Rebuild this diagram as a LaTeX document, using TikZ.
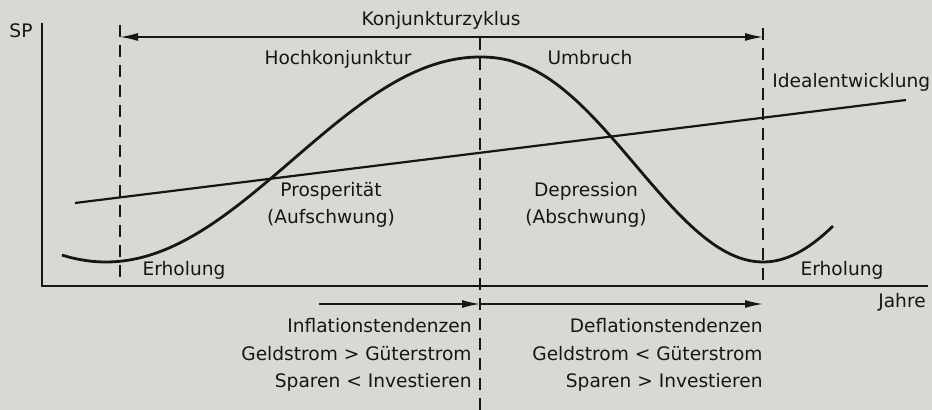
\documentclass[tikz,border=0pt]{standalone}
\usepackage{fontspec}
\setmainfont{DejaVu Sans}
\usetikzlibrary{positioning, arrows.meta}
\definecolor{papercolor}{RGB}{216,216,213}
\definecolor{inkcolor}{RGB}{22,22,22}

\begin{document}
\begin{tikzpicture}[x=0.5pt, y=-0.5pt,
    lbl/.style={inner sep=0pt, text=inkcolor, font=\fontsize{9.3}{13.75}\selectfont},
    axisline/.style={draw=inkcolor, line width=1pt},
    cutline/.style={draw=inkcolor, line width=0.7pt, dash pattern=on 6pt off 4pt},
    spanarrow/.style={draw=inkcolor, line width=0.75pt, -{Latex[length=9pt,width=4pt]}},
    wave/.style={draw=inkcolor, line width=1.4pt, smooth, samples=90},
    trend/.style={draw=inkcolor, line width=1.1pt}]
    \fill[papercolor] (0,0) rectangle (932,410);
    \useasboundingbox (0,0) rectangle (932,410);

    \coordinate (origin) at (42,286);
    \coordinate (ytop) at (42,23);
    \coordinate (xend) at (928,286);
    \coordinate (c1top) at (120,25);
    \coordinate (c1bot) at (120,286);
    \coordinate (c2top) at (480,38);
    \coordinate (c2bot) at (480,410);
    \coordinate (c3top) at (763,28);
    \coordinate (c3bot) at (763,286);
    \coordinate (zykL) at (120,37);
    \coordinate (zykR) at (763,37);
    \coordinate (zykM) at (441,37);
    \coordinate (tendA) at (319,304);
    \coordinate (tendM) at (480,304);
    \coordinate (tendB) at (763,304);
    \coordinate (idealA) at (75,203);
    \coordinate (idealB) at (906,100);

    \draw[axisline] (ytop) -- (origin) -- (xend);
    \draw[cutline] (c1top) -- (c1bot);
    \draw[cutline] (c2top) -- (c2bot);
    \draw[cutline] (c3top) -- (c3bot);
    \draw[spanarrow] (zykM) -- (zykL);
    \draw[spanarrow] (zykM) -- (zykR);
    \draw[spanarrow] (tendA) -- (tendM);
    \draw[spanarrow] (tendM) -- (tendB);
    \draw[trend] (idealA) -- (idealB);

    \draw[wave, domain=62:480] plot (\x, {159.5+102.5*cos(((\x-106)/374)*180)});
    \draw[wave, domain=480:833] plot (\x, {159.5-102.5*cos(180*((\x-480)/283)^1.1)});

    \node[lbl, anchor=base] (sp) at (21,38) {SP};
    \node[lbl, anchor=base] (jahre) at (902,308) {Jahre};
    \node[lbl, anchor=base] (zyklus) at (441,26) {Konjunkturzyklus};
    \node[lbl, anchor=base] (hoch) at (338,65) {Hochkonjunktur};
    \node[lbl, anchor=base] (umbruch) at (590,65) {Umbruch};
    \node[lbl, anchor=base west] (ideal) at (772,88) {Idealentwicklung};
    \node[lbl, anchor=base, align=center] (prosp) at (331,224) {Prosperität\\(Aufschwung)};
    \node[lbl, anchor=base, align=center] (depr) at (586,224) {Depression\\(Abschwung)};
    \node[lbl, anchor=base] (erhA) at (184,276) {Erholung};
    \node[lbl, anchor=base] (erhB) at (842,276) {Erholung};
    \node[lbl, anchor=base east, align=right] (infl) at (472,388)
        {Inflationstendenzen\\Geldstrom > Güterstrom\\Sparen < Investieren};
    \node[lbl, anchor=base east, align=right] (defl) at (763,388)
        {Deflationstendenzen\\Geldstrom < Güterstrom\\Sparen > Investieren};
\end{tikzpicture}
\end{document}
